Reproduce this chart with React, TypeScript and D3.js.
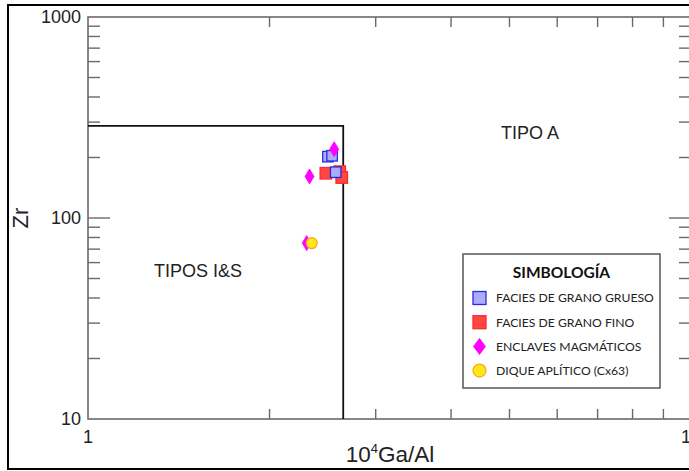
import React from "react";
import * as d3 from "d3";

const W = 689;
const H = 471;

// Data: [10^4 Ga/Al, Zr]
const granoGrueso: [number, number][] = [
  [2.50, 202],
  [2.54, 204],
  [2.575, 169],
];
const granoFino: [number, number][] = [
  [2.48, 167],
  [2.615, 170],
  [2.635, 159],
];
const enclaves: [number, number][] = [
  [2.56, 220],
  [2.33, 161],
  [2.305, 75],
];
const dique: [number, number][] = [[2.35, 75]];

// Discrimination boundary
const boundaryX = 2.65;
const boundaryY = 287;

const xMajor = [1, 10];
const yMajor = [10, 100, 1000];
const xMinor = [2, 3, 4, 5, 6, 7, 8, 9];
const yMinor = [20, 30, 40, 50, 60, 70, 80, 90, 200, 300, 400, 500, 600, 700, 800, 900];

const legendItems = [
  { key: "grueso", label: "FACIES DE GRANO GRUESO" },
  { key: "fino", label: "FACIES DE GRANO FINO" },
  { key: "enclave", label: "ENCLAVES MAGMÁTICOS" },
  { key: "dique", label: "DIQUE APLÍTICO (Cx63)" },
];

const BLUE_FILL = "#a9acff";
const BLUE_STROKE = "#2b2bd6";
const RED_FILL = "#ff4646";
const RED_STROKE = "#ff2a2a";
const MAG = "#ff00ff";
const YEL = "#ffe81a";
const YEL_STROKE = "#ffa31a";

function Square({ cx, cy, s, fill, stroke }: any) {
  return (
    <rect x={cx - s / 2} y={cy - s / 2} width={s} height={s} fill={fill} stroke={stroke} strokeWidth={1.3} />
  );
}
function Diamond({ cx, cy, w, h, fill }: any) {
  const p = `M${cx},${cy - h / 2}L${cx + w / 2},${cy}L${cx},${cy + h / 2}L${cx - w / 2},${cy}Z`;
  return <path d={p} fill={fill} stroke={fill} strokeWidth={0.8} />;
}
function Circle({ cx, cy, r }: any) {
  return <circle cx={cx} cy={cy} r={r} fill={YEL} stroke={YEL_STROKE} strokeWidth={1.2} />;
}

function LegendMarker({ k, cx, cy }: any) {
  if (k === "grueso") return <Square cx={cx} cy={cy} s={13} fill={BLUE_FILL} stroke={BLUE_STROKE} />;
  if (k === "fino") return <Square cx={cx} cy={cy} s={13} fill={RED_FILL} stroke={RED_STROKE} />;
  if (k === "enclave") return <Diamond cx={cx} cy={cy} w={12} h={16} fill={MAG} />;
  return <Circle cx={cx} cy={cy} r={6.5} />;
}

export default function App() {
  const left = 88, right = 691, top = 17, bottom = 419;
  const x = d3.scaleLog().domain([1, 10]).range([left, right]);
  const y = d3.scaleLog().domain([10, 1000]).range([bottom, top]);
  const axisColor = "#6a6a6a";
  const tickFont = "'Liberation Sans', Arial, sans-serif";
  const legFont = "Lato, 'Open Sans', sans-serif";

  const lx = 463, ly = 254, lw = 197, lh = 134;

  return (
    <svg width={W} height={H} style={{ position: "absolute", left: 0, top: 0, background: "#fff" }}>
      <rect x={0} y={0} width={W} height={H} fill="#fff" />
      {/* outer frame */}
      <rect x={8} y={5} width={720} height={464} fill="none" stroke="#000" strokeWidth={2} />

      {/* plot frame */}
      <rect x={left} y={top} width={right - left} height={bottom - top} fill="none" stroke={axisColor} strokeWidth={1.6} />

      {/* ticks */}
      {xMinor.map((v) => (
        <g key={"xm" + v}>
          <line x1={x(v)} x2={x(v)} y1={bottom} y2={bottom - 10} stroke={axisColor} strokeWidth={1.4} />
          <line x1={x(v)} x2={x(v)} y1={top} y2={top + 10} stroke={axisColor} strokeWidth={1.4} />
        </g>
      ))}
      {yMinor.map((v) => (
        <g key={"ym" + v}>
          <line x1={left} x2={left + 12} y1={y(v)} y2={y(v)} stroke={axisColor} strokeWidth={1.4} />
          <line x1={right} x2={right - 12} y1={y(v)} y2={y(v)} stroke={axisColor} strokeWidth={1.4} />
        </g>
      ))}
      {yMajor.filter((v) => v !== 10 && v !== 1000).map((v) => (
        <g key={"yM" + v}>
          <line x1={left} x2={left + 22} y1={y(v)} y2={y(v)} stroke={axisColor} strokeWidth={1.4} />
          <line x1={right} x2={right - 22} y1={y(v)} y2={y(v)} stroke={axisColor} strokeWidth={1.4} />
        </g>
      ))}

      {/* tick labels */}
      {yMajor.map((v) => (
        <text key={"yl" + v} x={left - 7} y={y(v)} dy="0.36em" textAnchor="end" fontFamily={tickFont} fontSize={18} fill="#222">
          {v}
        </text>
      ))}
      {xMajor.map((v) => (
        <text key={"xl" + v} x={x(v)} y={bottom + 24} textAnchor="middle" fontFamily={tickFont} fontSize={18} fill="#222">
          {v}
        </text>
      ))}

      {/* axis titles */}
      <text
        transform={`translate(28,${(top + bottom) / 2}) rotate(-90)`}
        textAnchor="middle"
        fontFamily={tickFont}
        fontSize={22}
        fill="#222"
      >
        Zr
      </text>
      <text x={390} y={462} textAnchor="middle" fontFamily={tickFont} fontSize={22.5} fill="#222">
        10<tspan dy={-9} fontSize={13}>4</tspan>
        <tspan dy={9}>Ga/Al</tspan>
      </text>

      {/* boundary */}
      <path
        d={`M${left},${y(boundaryY)}L${x(boundaryX)},${y(boundaryY)}L${x(boundaryX)},${bottom}`}
        fill="none"
        stroke="#111"
        strokeWidth={1.8}
      />

      {/* field labels */}
      <text x={198} y={271} dy="0.36em" textAnchor="middle" fontFamily={tickFont} fontSize={18} fill="#222">
        TIPOS I&amp;S
      </text>
      <text x={530} y={133} dy="0.36em" textAnchor="middle" fontFamily={tickFont} fontSize={18} fill="#222">
        TIPO A
      </text>

      {/* data */}
      {granoFino.map((d, i) => (
        <Square key={"f" + i} cx={x(d[0])} cy={y(d[1])} s={11.5} fill={RED_FILL} stroke={RED_STROKE} />
      ))}
      {granoGrueso.map((d, i) => (
        <Square key={"g" + i} cx={x(d[0])} cy={y(d[1])} s={10.5} fill={BLUE_FILL} stroke={BLUE_STROKE} />
      ))}
      {enclaves.map((d, i) => (
        <Diamond key={"e" + i} cx={x(d[0])} cy={y(d[1])} w={9} h={15} fill={MAG} />
      ))}
      {dique.map((d, i) => (
        <Circle key={"d" + i} cx={x(d[0])} cy={y(d[1])} r={5.5} />
      ))}

      {/* legend */}
      <rect x={lx} y={ly} width={lw} height={lh} fill="#fff" stroke="#555" strokeWidth={1.5} />
      <text x={lx + lw / 2} y={ly + 18} dy="0.36em" textAnchor="middle" fontFamily={legFont} fontWeight={700} fontSize={15.5} fill="#111">
        SIMBOLOGÍA
      </text>
      {legendItems.map((it, i) => {
        const cy = ly + 44 + i * 24.2;
        return (
          <g key={it.key}>
            <LegendMarker k={it.key} cx={479.5} cy={cy} />
            <text x={496} y={cy} dy="0.36em" fontFamily={legFont} fontSize={12.2} fill="#222">
              {it.label}
            </text>
          </g>
        );
      })}
    </svg>
  );
}
